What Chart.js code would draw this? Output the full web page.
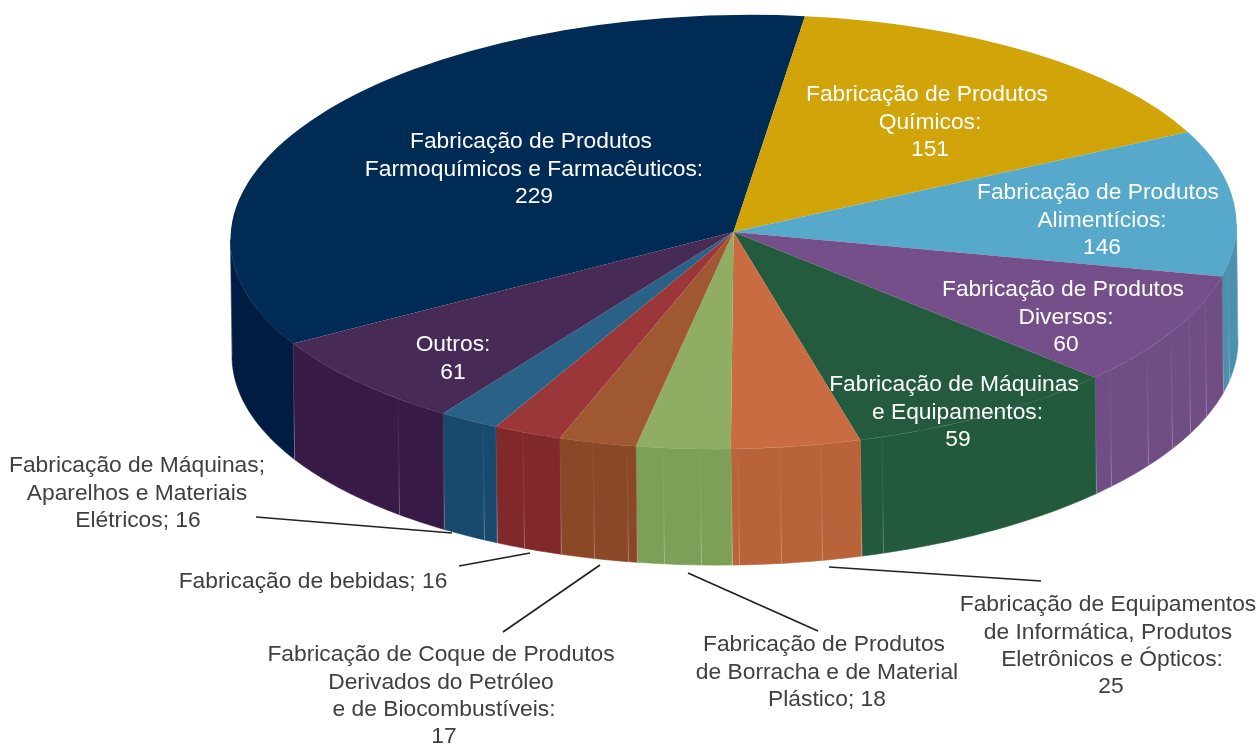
<!DOCTYPE html>
<html lang="pt">
<head>
<meta charset="utf-8">
<title>Pizza 3D</title>
<script src="https://cdn.jsdelivr.net/npm/chart.js@4/dist/chart.umd.js"></script>
<style>html,body{margin:0;padding:0;background:#fff}canvas{display:block}</style>
</head>
<body>
<canvas id="c" width="1258" height="745"></canvas>
<script>
// ---- data ----
const categories = [
  "Fabricação de Produtos Farmoquímicos e Farmacêuticos",
  "Fabricação de Produtos Químicos",
  "Fabricação de Produtos Alimentícios",
  "Fabricação de Produtos Diversos",
  "Fabricação de Máquinas e Equipamentos",
  "Fabricação de Equipamentos de Informática, Produtos Eletrônicos e Ópticos",
  "Fabricação de Produtos de Borracha e de Material Plástico",
  "Fabricação de Coque de Produtos Derivados do Petróleo e de Biocombustíveis",
  "Fabricação de bebidas",
  "Fabricação de Máquinas; Aparelhos e Materiais Elétricos",
  "Outros"
];
const values = [229, 151, 146, 60, 59, 25, 18, 17, 16, 16, 61];

// The reference's perspective widens or narrows each slice: apparent sweep / proportional sweep.
const perspectiveStretch = [1.230, 0.8284, 0.5952, 1.1176, 1.1778, 1.321, 1.342, 1.1736, 1.108, 0.983, 0.9375];

// printed label lines; {v} stands for the value
const labelLines = [
  ["Fabricação de Produtos", "Farmoquímicos e Farmacêuticos:", "{v}"],
  ["Fabricação de Produtos", "Químicos:", "{v}"],
  ["Fabricação de Produtos", "Alimentícios:", "{v}"],
  ["Fabricação de Produtos", "Diversos:", "{v}"],
  ["Fabricação de Máquinas", "e Equipamentos:", "{v}"],
  ["Fabricação de Equipamentos", "de Informática, Produtos", "Eletrônicos e Ópticos:", "{v}"],
  ["Fabricação de Produtos", "de Borracha e de Material", "Plástico; {v}"],
  ["Fabricação de Coque de Produtos", "Derivados do Petróleo", "e de Biocombustíveis:", "{v}"],
  ["Fabricação de bebidas; {v}"],
  ["Fabricação de Máquinas;", "Aparelhos e Materiais", "Elétricos; {v}"],
  ["Outros:", "{v}"]
];

// ---- styles and layout ----
const topColors  = ["#002b55","#d1a50a","#56a9ca","#744f8a","#245b3f","#c96c42","#8fae64","#a05832","#9b3639","#2a6287","#472a55"];
const wallColors = ["#001c43","#a88508","#4b90ad","#704d85","#235a3e","#b9633a","#7e9f57","#8a4826","#80282a","#184a6d","#371a45"];
const labelColors = ["#fff","#fff","#fff","#fff","#fff","#404040","#404040","#404040","#404040","#404040","#fff"];
const labelAnchor = [[533,142],[927,95],[1098,193],[1063,290],[955,385],[1108,605],[827,645],[441,655],[313,582],[137,466],[453,345]];
const labelLineNudge = [[-2,1,1],[0,3,3],[0,4,4],[0,3,3],[-1,2.5,3],[0,0,4,3],[-3,0,0],[0,0,3,3],[0],[0,0,1],[0,0]];
const leaderLines = [[829,567,1041,581],[688,573,818,631],[600,565,503,632],[530,553,459,566],[452,533,256,517]];
const wallSeamX = [398,483,523,593,627,663,700,738,780,821,882,1110,1147,1171,1189,1205,1228];
const FONT_PX = 22.8, LINE_H = 27.3;
const CX = 733.5, CY = 232, RX = 503, RY = 217, SHEAR = -0.015, DEPTH_X = 1.5, DEPTH_Y = 116;

// keep the chart's pie type; only the sweep is adjusted by the perspective factor
const Pie = Chart.PieController;
const baseCircumference = Pie.prototype._circumference;
Pie.prototype._circumference = function (i, reset) {
  return baseCircumference.call(this, i, reset) * perspectiveStretch[i];
};

function project(el, a, dx, dy) {
  const px = el.outerRadius * Math.cos(a), py = el.outerRadius * Math.sin(a);
  return [el.x + px + (dx || 0), el.y + py * (RY / RX) + px * SHEAR + (dy || 0)];
}

function seam(ctx, el, a) {
  const t = project(el, a), b = project(el, a, DEPTH_X, DEPTH_Y);
  const g = ctx.createLinearGradient(t[0], t[1], b[0], b[1]);
  g.addColorStop(0, "rgba(255,255,255,0.04)");
  g.addColorStop(0.55, "rgba(255,255,255,0.1)");
  g.addColorStop(1, "rgba(255,255,255,0.32)");
  ctx.beginPath();
  ctx.moveTo(t[0], t[1]); ctx.lineTo(b[0], b[1]);
  ctx.strokeStyle = g;
  ctx.lineWidth = 1;
  ctx.stroke();
}

const pie3d = {
  id: "pie3d",
  beforeDatasetsDraw(chart) {
    const ctx = chart.ctx, arcs = chart.getDatasetMeta(0).data;
    arcs.forEach((el, i) => {
      [[0, Math.PI], [2 * Math.PI, 3 * Math.PI]].forEach(([lo, hi]) => {
        const s = Math.max(el.startAngle, lo), e = Math.min(el.endAngle, hi);
        if (e <= s) return;
        const n = Math.max(2, Math.ceil((e - s) * 60));
        ctx.beginPath();
        for (let k = 0; k <= n; k++) {
          const p = project(el, s + (e - s) * k / n);
          k ? ctx.lineTo(p[0], p[1]) : ctx.moveTo(p[0], p[1]);
        }
        for (let k = n; k >= 0; k--) {
          const p = project(el, s + (e - s) * k / n, DEPTH_X, DEPTH_Y);
          ctx.lineTo(p[0], p[1]);
        }
        ctx.closePath();
        ctx.fillStyle = ctx.strokeStyle = wallColors[i];
        ctx.lineWidth = 0.6;
        ctx.fill();
        ctx.stroke();
        [s, e].forEach(a => seam(ctx, el, a));
      });
    });
    // facet seams of the side wall
    const el0 = arcs[0];
    wallSeamX.forEach(x => seam(ctx, el0, Math.acos((x - CX) / RX)));
    // flatten the library's arcs into the tilted top face
    ctx.save();
    ctx.translate(el0.x, el0.y);
    ctx.transform(1, SHEAR, 0, RY / RX, 0, 0);
    ctx.translate(-el0.x, -el0.y);
  },
  afterDatasetsDraw(chart) {
    const ctx = chart.ctx;
    ctx.restore();
    // leader lines
    ctx.strokeStyle = "#222";
    ctx.lineWidth = 1.7;
    leaderLines.forEach(l => {
      ctx.beginPath();
      ctx.moveTo(l[0], l[1]); ctx.lineTo(l[2], l[3]);
      ctx.stroke();
    });
    // labels
    ctx.font = FONT_PX + 'px "Liberation Sans", Arial, sans-serif';
    ctx.textAlign = "center";
    ctx.textBaseline = "middle";
    labelLines.forEach((lines, i) => {
      ctx.fillStyle = labelColors[i];
      lines.forEach((ln, j) => {
        ctx.fillText(ln.replace("{v}", values[i]), labelAnchor[i][0] + labelLineNudge[i][j], labelAnchor[i][1] + j * LINE_H);
      });
    });
  }
};

new Chart(document.getElementById("c"), {
  type: "pie",
  data: {
    labels: categories,
    datasets: [{ data: values, backgroundColor: topColors, borderWidth: 0 }]
  },
  options: {
    responsive: false,
    animation: false,
    radius: RX,
    rotation: 241.1,
    layout: { padding: { left: 209, bottom: 281 } },
    plugins: { legend: { display: false }, tooltip: { enabled: false } }
  },
  plugins: [pie3d]
});
</script>
</body>
</html>
